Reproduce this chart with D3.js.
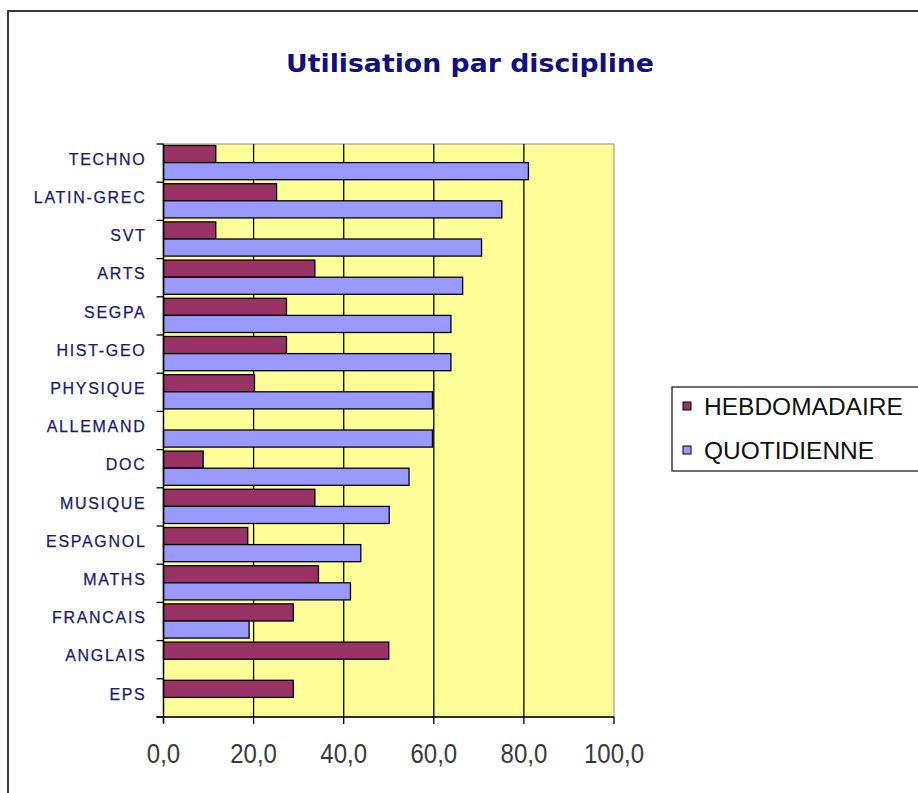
<!DOCTYPE html>
<html><head><meta charset="utf-8">
<script src="https://cdn.jsdelivr.net/npm/d3@7"></script>
<style>html,body{margin:0;padding:0;background:#fff;}svg{display:block;}</style>
</head><body>
<script>
const categories = ["TECHNO","LATIN-GREC","SVT","ARTS","SEGPA","HIST-GEO","PHYSIQUE","ALLEMAND","DOC","MUSIQUE","ESPAGNOL","MATHS","FRANCAIS","ANGLAIS","EPS"];
const hebdomadaire = [11.6,25.1,11.6,33.6,27.3,27.3,20.2,0,8.8,33.6,18.7,34.4,28.8,50.0,28.8];
const quotidienne = [81.0,75.1,70.6,66.4,63.8,63.8,59.7,59.7,54.5,50.1,43.8,41.5,19.0,0,0];
const seriesNames = ["HEBDOMADAIRE","QUOTIDIENNE"];
const seriesColors = ["#993366","#9999FF"];
const xTicks = [0,20,40,60,80,100];
const chartTitle = "Utilisation par discipline";

(function () {
const W = 918, H = 793;
const svg = d3.select("body").append("svg").attr("width", W).attr("height", H);

// outer chart border
svg.append("rect").attr("x", 8).attr("y", 11).attr("width", W + 20).attr("height", H + 20)
  .attr("fill", "#fff").attr("stroke", "#3a3a3a").attr("stroke-width", 2);

const pL = 163.5, pR = 614, pT = 144, pB = 717;
const x = d3.scaleLinear().domain([0, 100]).range([pL, pR]);
const y = d3.scaleBand().domain(categories).range([pT, pB]).padding(0);
const sub = d3.scaleBand().domain(seriesNames).range([1.5, y.bandwidth() - 2.5]).padding(0);

// plot area
svg.append("rect").attr("x", pL).attr("y", pT).attr("width", pR - pL).attr("height", pB - pT)
  .attr("fill", "#FFFF99").attr("stroke", "#8a8a8a").attr("stroke-width", 1);

// gridlines
svg.append("g").selectAll("line").data(xTicks.filter(d => d > 0 && d < 100)).join("line")
  .attr("x1", d => x(d)).attr("x2", d => x(d)).attr("y1", pT).attr("y2", pB)
  .attr("stroke", "#000").attr("stroke-width", 1.3);

// bars
const barData = [];
categories.forEach((c, i) => [hebdomadaire[i], quotidienne[i]].forEach((v, j) => {
  if (v > 0) barData.push({c, s: seriesNames[j], v, color: seriesColors[j]});
}));
svg.append("g").selectAll("rect").data(barData).join("rect")
  .attr("x", x(0)).attr("y", d => y(d.c) + sub(d.s))
  .attr("width", d => x(d.v) - x(0)).attr("height", sub.bandwidth())
  .attr("fill", d => d.color).attr("stroke", "#000").attr("stroke-width", 1.3);

// y axis
const yAxis = svg.append("g");
yAxis.append("line").attr("x1", pL).attr("x2", pL).attr("y1", pT).attr("y2", pB + 6)
  .attr("stroke", "#000").attr("stroke-width", 1.5);
const bounds = categories.map(c => y(c)).concat([y.range()[1]]);
yAxis.selectAll("line.tk").data(bounds).join("line").attr("class", "tk")
  .attr("x1", pL - 7).attr("x2", pL).attr("y1", d => d).attr("y2", d => d)
  .attr("stroke", "#000").attr("stroke-width", 1.3);
yAxis.selectAll("text").data(categories).join("text")
  .attr("x", 146.5).attr("y", d => y(d) + y.bandwidth() / 2 - 4)
  .attr("dy", "0.36em").attr("text-anchor", "end")
  .attr("font-family", "Liberation Sans, Arial, sans-serif").attr("font-size", 16)
  .attr("letter-spacing", 1.7).attr("stroke", "#1a1a6e").attr("stroke-width", 0.25)
  .attr("fill", "#1a1a6e").text(d => d);

// x axis
const xAxis = svg.append("g");
xAxis.append("line").attr("x1", pL - 7).attr("x2", pR).attr("y1", pB).attr("y2", pB)
  .attr("stroke", "#000").attr("stroke-width", 1.5);
xAxis.selectAll("line.tk").data(xTicks).join("line").attr("class", "tk")
  .attr("x1", d => x(d)).attr("x2", d => x(d)).attr("y1", pB).attr("y2", pB + 7)
  .attr("stroke", "#000").attr("stroke-width", 1.3);
xAxis.selectAll("text").data(xTicks).join("text")
  .attr("transform", d => `translate(${x(d)},763) scale(1,1.18)`)
  .attr("text-anchor", "middle")
  .attr("font-family", "Liberation Sans, Arial, sans-serif").attr("font-size", 24)
  .attr("fill", "#3a3a3a").text(d => d3.format(".1f")(d).replace(".", ","));

// title
svg.append("text").attr("x", 470).attr("y", 72).attr("text-anchor", "middle")
  .attr("font-family", "DejaVu Sans, sans-serif").attr("font-weight", "bold").attr("font-size", 24)
  .attr("fill", "#10107e").attr("textLength", 368).attr("lengthAdjust", "spacingAndGlyphs").text(chartTitle);

// legend
const lg = svg.append("g");
lg.append("rect").attr("x", 672).attr("y", 387).attr("width", 270).attr("height", 84)
  .attr("fill", "#fff").attr("stroke", "#222").attr("stroke-width", 1.3);
const li = lg.selectAll("g").data(seriesNames).join("g")
  .attr("transform", (d, i) => `translate(0,${406 + i * 44})`);
li.append("rect").attr("x", 683).attr("y", -4).attr("width", 8).attr("height", 8)
  .attr("fill", (d, i) => seriesColors[i]).attr("stroke", "#000").attr("stroke-width", 1);
li.append("text").attr("x", 704).attr("y", 0).attr("dy", "0.36em")
  .attr("font-family", "Liberation Sans, Arial, sans-serif").attr("font-size", 24.5)
  .attr("fill", "#111").text(d => d);
})();
</script>
</body></html>
